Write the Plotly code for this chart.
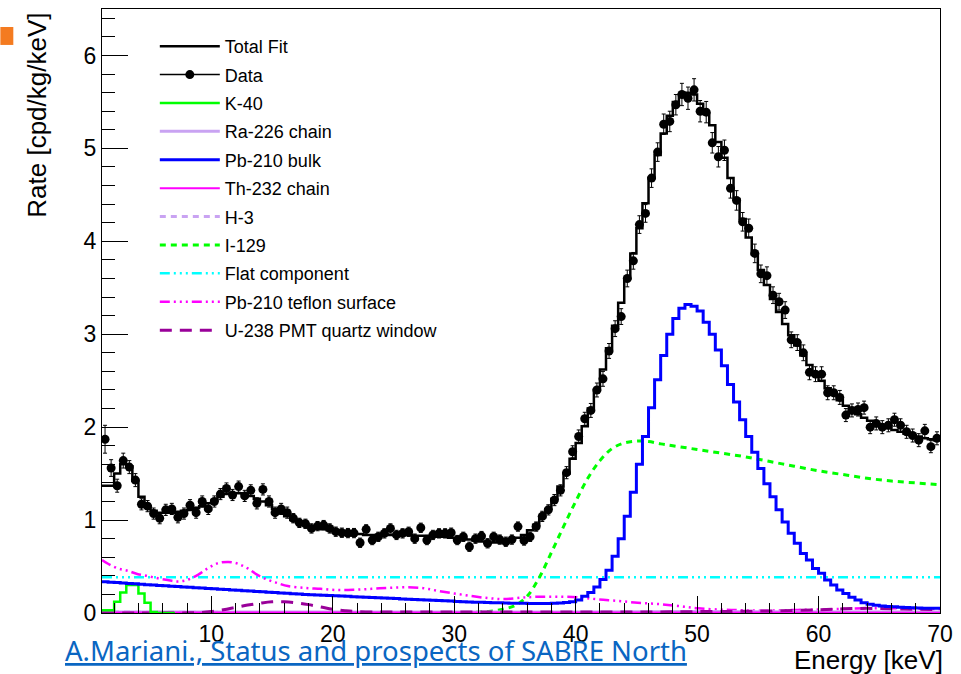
import numpy as np
import plotly.graph_objects as go

# ---------------- data ----------------
bin_lo = 1.0
bin_w = 0.5
n_bins = 138
energy = np.arange(bin_lo + bin_w / 2, 70, bin_w)  # bin centres 1.25 ... 69.75

data_rate = [
    1.87, 1.56, 1.37, 1.64, 1.57, 1.43, 1.17, 1.15, 1.07, 1.02, 1.11, 1.12, 1.03, 1.07, 1.16, 1.08,
    1.20, 1.12, 1.20, 1.28, 1.34, 1.27, 1.36, 1.26, 1.32, 1.18, 1.33, 1.20, 1.08, 1.12, 1.08, 1.02, 0.97,
    0.96, 0.91, 0.935, 0.946, 0.91, 0.875, 0.864, 0.86, 0.86, 0.756, 0.90, 0.785, 0.82, 0.857, 0.91,
    0.84, 0.857, 0.874, 0.80, 0.917, 0.785, 0.84, 0.857, 0.857, 0.864, 0.785, 0.82, 0.713, 0.80, 0.828,
    0.75, 0.82, 0.79, 0.767, 0.79,
    0.93, 0.78, 0.82, 0.93, 1.04, 1.11, 1.215, 1.32, 1.51, 1.735, 1.90, 2.09, 2.18, 2.40, 2.52, 2.82,
    3.06, 3.19, 3.60, 3.79, 4.18, 4.30, 4.68, 4.96, 5.26, 5.29, 5.47, 5.58, 5.54, 5.63,
    5.40, 5.39, 5.06, 4.91, 4.98, 4.57, 4.44, 4.21, 4.14, 3.87, 3.65, 3.63, 3.42, 3.35, 3.26, 2.94,
    2.91, 2.80, 2.59, 2.57, 2.57, 2.37, 2.37, 2.32, 2.13, 2.18, 2.19, 2.21, 2.00, 2.04, 2.00, 2.02,
    2.08, 2.02, 1.95, 1.91, 1.86, 1.96, 1.79, 1.88,
]

data_err = [
    0.15, 0.09, 0.07, 0.08, 0.07, 0.07, 0.06, 0.06, 0.06, 0.06, 0.06, 0.06, 0.06, 0.06, 0.06, 0.06,
    0.06, 0.06, 0.06, 0.06, 0.06, 0.06, 0.06, 0.06, 0.06, 0.06, 0.06, 0.06, 0.06, 0.06, 0.06, 0.05, 0.05,
    0.05, 0.05, 0.05, 0.05, 0.05, 0.05, 0.05, 0.05, 0.05, 0.05, 0.05, 0.05, 0.05, 0.05, 0.05,
    0.05, 0.05, 0.05, 0.05, 0.05, 0.05, 0.05, 0.05, 0.05, 0.05, 0.05, 0.05, 0.05, 0.05, 0.05,
    0.05, 0.05, 0.05, 0.05, 0.05,
    0.05, 0.05, 0.05, 0.05, 0.055, 0.055, 0.06, 0.06, 0.065, 0.065, 0.07, 0.07, 0.075, 0.075, 0.08, 0.08,
    0.085, 0.085, 0.09, 0.09, 0.095, 0.095, 0.10, 0.10, 0.11, 0.11, 0.11, 0.12, 0.12, 0.12,
    0.115, 0.115, 0.11, 0.11, 0.11, 0.105, 0.105, 0.10, 0.10, 0.10, 0.095, 0.095, 0.09, 0.09, 0.09, 0.085,
    0.085, 0.085, 0.08, 0.08, 0.08, 0.075, 0.075, 0.075, 0.07, 0.07, 0.07, 0.07, 0.07, 0.07, 0.07, 0.07,
    0.07, 0.07, 0.07, 0.07, 0.07, 0.07, 0.065, 0.07,
]

total_fit = [
    1.37, 1.37, 1.50, 1.60, 1.58, 1.42, 1.25, 1.15, 1.10, 1.08, 1.08, 1.08, 1.09, 1.10, 1.11, 1.13,
    1.15, 1.18, 1.21, 1.25, 1.28, 1.29, 1.29, 1.28, 1.26, 1.23, 1.20, 1.16, 1.12, 1.08, 1.04, 1.00, 0.97,
    0.95, 0.93, 0.91, 0.90, 0.89, 0.88, 0.87, 0.86, 0.85, 0.85, 0.84, 0.84, 0.84, 0.84, 0.84,
    0.84, 0.84, 0.84, 0.83, 0.83, 0.83, 0.82, 0.82, 0.82, 0.81, 0.80, 0.80, 0.79, 0.78, 0.77,
    0.76, 0.76, 0.76, 0.77, 0.79,
    0.81, 0.84, 0.89, 0.95, 1.03, 1.12, 1.23, 1.36, 1.50, 1.66, 1.83, 2.01, 2.20, 2.40, 2.62, 2.85,
    3.09, 3.34, 3.60, 3.87, 4.14, 4.41, 4.68, 4.93, 5.16, 5.35, 5.50, 5.58, 5.60, 5.58,
    5.48, 5.37, 5.25, 5.07, 4.90, 4.68, 4.45, 4.24, 4.04, 3.86, 3.69, 3.53, 3.38, 3.24, 3.11, 2.99,
    2.88, 2.77, 2.67, 2.58, 2.50, 2.42, 2.35, 2.29, 2.23, 2.18, 2.14, 2.10, 2.07, 2.04, 2.01, 1.99,
    1.97, 1.95, 1.93, 1.91, 1.90, 1.88, 1.87, 1.86,
]

pb210_bulk = [
    0.335, 0.331, 0.327, 0.322, 0.318, 0.314, 0.310, 0.305, 0.301, 0.297, 0.293, 0.288, 0.284, 0.280,
    0.276, 0.272, 0.268, 0.264, 0.260, 0.256, 0.252, 0.248, 0.244, 0.240, 0.236, 0.232, 0.228, 0.224,
    0.220, 0.216, 0.212, 0.208, 0.204,
    0.200, 0.197, 0.194, 0.191, 0.188, 0.185, 0.182, 0.179, 0.176, 0.173, 0.170, 0.167, 0.164, 0.161,
    0.158, 0.155, 0.152, 0.149, 0.146, 0.143, 0.140, 0.137, 0.134, 0.131, 0.128, 0.125, 0.122, 0.119,
    0.117, 0.115, 0.113, 0.111, 0.109, 0.107, 0.106, 0.105, 0.104,
    0.103, 0.102, 0.102, 0.103, 0.105, 0.108, 0.113, 0.122,
    0.14, 0.18, 0.22, 0.28, 0.36, 0.46, 0.61,
    0.80, 1.04, 1.30, 1.60, 1.90, 2.21, 2.51, 2.77, 3.00, 3.17, 3.28, 3.32, 3.30, 3.25, 3.13,
    3.00, 2.83, 2.66, 2.46, 2.27, 2.08, 1.90, 1.73,
    1.556, 1.39, 1.25, 1.11, 0.98, 0.857, 0.75, 0.64, 0.57, 0.48, 0.427, 0.355, 0.30, 0.247, 0.21,
    0.17, 0.14, 0.11, 0.095, 0.083, 0.076,
    0.07, 0.066, 0.062, 0.059, 0.056, 0.054, 0.052, 0.051, 0.05,
]

k40 = [0.03, 0.03, 0.12, 0.22, 0.30, 0.30, 0.21, 0.11, 0.01, 0.0, 0.0, 0.0]

flat_level = 0.385

i129_e = [1, 30, 32, 33, 34, 35, 36, 37, 38, 39, 40, 41, 42, 43, 44, 45, 46, 47, 48, 50, 52, 54,
          56, 58, 60, 62, 64, 66, 68, 70]
i129_v = [0.0, 0.0, 0.01, 0.02, 0.04, 0.08, 0.18, 0.38, 0.65, 0.93, 1.20, 1.45, 1.64, 1.77, 1.83,
          1.85, 1.845, 1.82, 1.80, 1.76, 1.72, 1.68, 1.63, 1.58, 1.53, 1.49, 1.45, 1.42, 1.40, 1.38]

teflon_e = [1.0, 1.5, 2.3, 3.1, 3.9, 4.7, 5.6, 6.4, 7.2, 8.0, 8.9, 9.7, 10.5, 11.4, 12.2, 13.0, 13.8,
            14.7, 15.5, 16.3, 17.7, 19.0, 20.4, 21.8, 23.2, 24.5, 25.9, 27.3, 28.6, 30.0, 31.4, 32.8,
            34.1, 35.5, 36.9, 38.5, 40.2, 41.8, 43.5, 45.1, 46.75, 48.4, 50.1, 52.8, 55.6, 58.3, 61.0,
            63.75, 66.5, 70.0]
teflon_v = [0.57, 0.53, 0.48, 0.455, 0.42, 0.40, 0.373, 0.355, 0.34, 0.355, 0.41, 0.48, 0.534, 0.55,
            0.53, 0.48, 0.41, 0.355, 0.32, 0.29, 0.27, 0.26, 0.247, 0.25, 0.26, 0.27, 0.276, 0.27,
            0.24, 0.21, 0.183, 0.16, 0.15, 0.165, 0.175, 0.175, 0.17, 0.147, 0.13, 0.11, 0.097, 0.076,
            0.05, 0.033, 0.025, 0.033, 0.04, 0.05, 0.05, 0.04]

u238_e = [1, 5, 9, 10, 11, 12, 13, 14, 15, 16, 17, 18, 19, 20, 21, 22, 25, 30, 35, 40, 45, 50, 55,
          60, 62, 64, 66, 68, 70]
u238_v = [0.0, 0.0, 0.005, 0.015, 0.035, 0.06, 0.085, 0.105, 0.12, 0.12, 0.11, 0.09, 0.065, 0.04,
          0.025, 0.015, 0.01, 0.01, 0.01, 0.01, 0.01, 0.015, 0.02, 0.035, 0.045, 0.05, 0.045, 0.04,
          0.035]

ra226_e = [1, 10, 20, 30, 40, 50, 60, 70]
ra226_v = [0.012, 0.01, 0.008, 0.008, 0.01, 0.015, 0.015, 0.012]

th232_e = [1, 20, 40, 70]
th232_v = [0.006, 0.005, 0.005, 0.004]

h3_e = [1, 5, 10, 15, 18.6]
h3_v = [0.01, 0.012, 0.008, 0.004, 0.0]

x_ticks = [10, 20, 30, 40, 50, 60, 70]
y_ticks = [0, 1, 2, 3, 4, 5, 6]

# ---------------- helpers ----------------
def step_xy(values):
    vals = list(values)
    lo = bin_lo + bin_w * np.arange(len(vals))
    xs = list(lo) + [lo[-1] + bin_w]
    ys = vals + [vals[-1]]
    return xs, ys

FONT = "Liberation Sans, Arial, Helvetica, sans-serif"
GREEN = "#00ff00"
LAV = "#c9a3f2"
MAG = "#ff00ff"
PURP = "#990099"
CYAN = "#00ffff"
DDD = "10px,4px,2px,4px,2px,4px,2px,4px"

fig = go.Figure()

def add_line(x, y, name, color, width, dash="solid", shape="linear", rank=0):
    fig.add_trace(go.Scatter(
        x=x, y=y, mode="lines", name=name, legendgroup=name, legendrank=rank,
        line=dict(color=color, width=width, dash=dash, shape=shape),
        hoverinfo="skip"))

# components (drawn first)
add_line([bin_lo, 70], [flat_level, flat_level], "Flat component", CYAN, 2.5, DDD, rank=9)
add_line(teflon_e, teflon_v, "Pb-210 teflon surface", MAG, 2.5, DDD, "spline", rank=10)
add_line(i129_e, i129_v, "I-129", GREEN, 3, "6px,5px", "spline", rank=8)
add_line(ra226_e, ra226_v, "Ra-226 chain", LAV, 3, rank=4)
add_line(h3_e, h3_v, "H-3", LAV, 3, "6px,5px", rank=7)
add_line(th232_e, th232_v, "Th-232 chain", MAG, 2, rank=6)
add_line(u238_e, u238_v, "U-238 PMT quartz window", PURP, 3, "12px,8px", "spline", rank=11)
kx, ky = step_xy(k40)
add_line(kx, ky, "K-40", GREEN, 2.5, shape="hv", rank=3)
bx, by = step_xy(pb210_bulk)
add_line(bx, by, "Pb-210 bulk", "#0000ff", 3, shape="hv", rank=5)
tx, ty = step_xy(total_fit)
add_line(tx, ty, "Total Fit", "black", 2.5, shape="hv", rank=1)

# data
fig.add_trace(go.Scatter(
    x=energy, y=data_rate, mode="markers", name="Data", showlegend=False,
    marker=dict(color="black", size=9, symbol="circle"),
    error_y=dict(type="data", array=data_err, color="black", thickness=1, width=2),
    hoverinfo="skip"))
fig.add_trace(go.Scatter(
    x=[None], y=[None], mode="lines+markers", name="Data", legendgroup="Data", legendrank=2,
    marker=dict(color="black", size=9), line=dict(color="black", width=1.5)))

# ---------------- layout ----------------
L, R, T, B = 102, 18, 8, 61
W, H = 961, 674
pw, ph = W - L - R, H - T - B

def px_x(p):
    return (p - L) / pw

def px_y(p):
    return (H - B - p) / ph

fig.update_layout(
    width=W, height=H, margin=dict(l=L, r=R, t=T, b=B),
    paper_bgcolor="white", plot_bgcolor="white",
    font=dict(family=FONT, color="black"),
    showlegend=True,
    legend=dict(x=px_x(155), y=px_y(27), xanchor="left", yanchor="top",
                bgcolor="rgba(0,0,0,0)", borderwidth=0, font=dict(size=18, family=FONT),
                tracegroupgap=2, itemwidth=60, traceorder="grouped"),
    xaxis=dict(range=[bin_lo, 70], tickvals=x_ticks, ticks="inside", ticklen=17, tickwidth=1,
               tickcolor="black", showline=True, linecolor="black", linewidth=1, mirror=True,
               showgrid=False, zeroline=False, tickfont=dict(size=23, family=FONT),
               minor=dict(ticks="inside", ticklen=10, dtick=2, tick0=0, tickcolor="black",
                          showgrid=False)),
    yaxis=dict(range=[0, 6.5], tickvals=y_ticks, ticks="inside", ticklen=26, tickwidth=1,
               tickcolor="black", showline=True, linecolor="black", linewidth=1, mirror=True,
               showgrid=False, zeroline=False, tickfont=dict(size=23, family=FONT),
               minor=dict(ticks="inside", ticklen=13, dtick=0.2, tick0=0, tickcolor="black",
                          showgrid=False)),
    annotations=[
        dict(text="Rate [cpd/kg/keV]", textangle=-90, xref="paper", yref="paper",
             x=px_x(37), y=px_y(10), xanchor="center", yanchor="top", showarrow=False,
             font=dict(size=26, family=FONT)),
        dict(text="Energy [keV]", xref="paper", yref="paper", x=px_x(948), y=px_y(660),
             xanchor="right", yanchor="middle", showarrow=False, font=dict(size=26, family=FONT)),
        dict(text="<u>A.Mariani., Status and prospects of SABRE North</u>", xref="paper",
             yref="paper", x=px_x(63), y=px_y(651), xanchor="left", yanchor="middle",
             showarrow=False, font=dict(size=27.5, family="Noto Sans", color="#0a66c2")),
    ],
    shapes=[
        dict(type="rect", xref="paper", yref="paper", x0=px_x(0), x1=px_x(13), y0=px_y(44),
             y1=px_y(26), fillcolor="#f47b20", line=dict(width=0)),
    ],
)

fig.write_html("out.html")
